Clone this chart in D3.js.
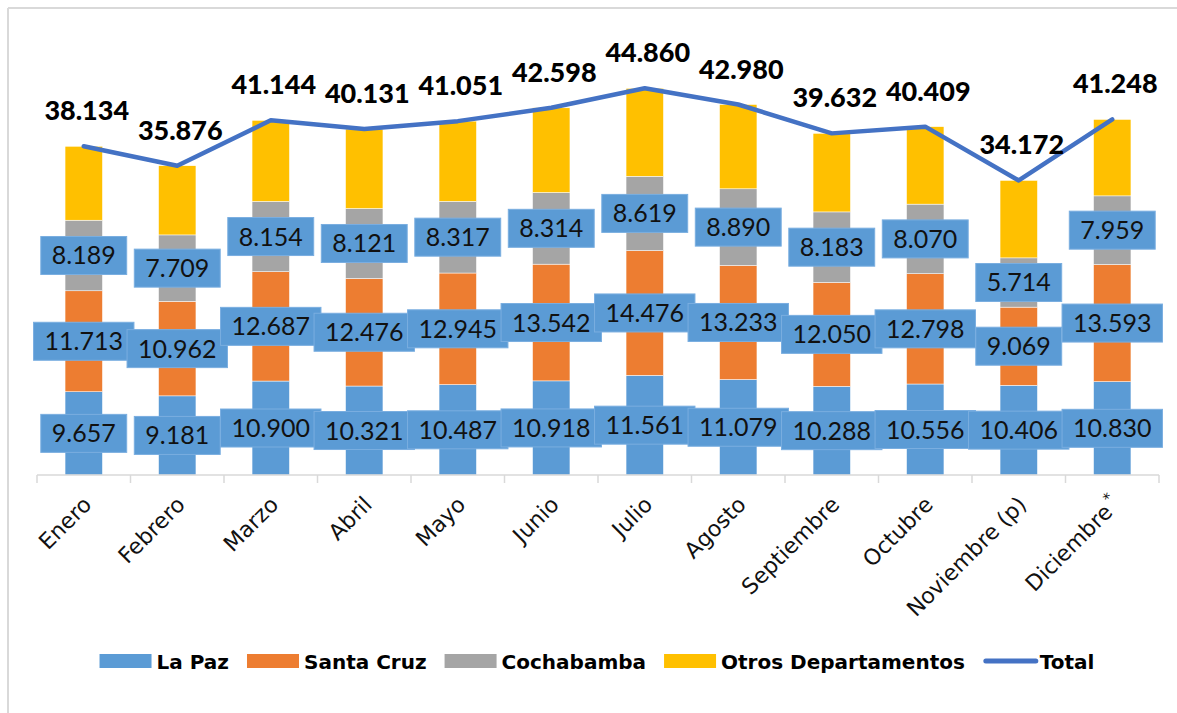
<!DOCTYPE html>
<html>
<head>
<meta charset="utf-8">
<script src="https://cdn.jsdelivr.net/npm/d3@7"></script>
<style>
  body { margin: 0; background: #fff; }
  svg { display: block; }
</style>
</head>
<body>
<div id="chart_div"></div>
<script>
// datos por mes
const months = ["Enero", "Febrero", "Marzo", "Abril", "Mayo", "Junio", "Julio", "Agosto",
  "Septiembre", "Octubre", "Noviembre (p)", "Diciembre"]
const laPaz = [9657, 9181, 10900, 10321, 10487, 10918, 11561, 11079, 10288, 10556, 10406, 10830]
const santaCruz = [11713, 10962, 12687, 12476, 12945, 13542, 14476, 13233, 12050, 12798, 9069, 13593]
const cochabamba = [8189, 7709, 8154, 8121, 8317, 8314, 8619, 8890, 8183, 8070, 5714, 7959]
const otros = [8575, 8024, 9403, 9213, 9302, 9824, 10204, 9778, 9111, 8985, 8983, 8866]
const total = [38134, 35876, 41144, 40131, 41051, 42598, 44860, 42980, 39632, 40409, 34172, 41248]

const seriesNames = ["La Paz", "Santa Cruz", "Cochabamba", "Otros Departamentos"]
const colors = ["#5B9BD5", "#ED7D31", "#A5A5A5", "#FFC000"]
const lineColor = "#4472C4"

const width = 1177, height = 713

const svg = d3.select("#chart_div").append("svg")
  .attr("width", width)
  .attr("height", height)

// marco
svg.append("line").attr("x1", 8).attr("x2", width).attr("y1", 8).attr("y2", 8)
  .attr("stroke", "#d9d9d9").attr("stroke-width", 2)
svg.append("line").attr("x1", 8).attr("x2", 8).attr("y1", 8).attr("y2", height)
  .attr("stroke", "#d9d9d9").attr("stroke-width", 2)

// escalas
const x = d3.scaleBand().domain(months).range([37, 1159]).paddingInner(0.6).paddingOuter(0.3)
const y = d3.scaleLinear().domain([0, 50000]).range([475, 44])

// tabla para el stack
const table = months.map((m, i) => ({
  month: m,
  s0: laPaz[i], s1: santaCruz[i], s2: cochabamba[i], s3: otros[i]
}))
const stack = d3.stack().keys(["s0", "s1", "s2", "s3"])(table)

const barsG = svg.append("g")
stack.forEach((layer, k) => {
  barsG.selectAll(".bar" + k)
    .data(layer)
    .enter()
    .append("rect")
    .attr("x", d => x(d.data.month))
    .attr("width", x.bandwidth())
    .attr("y", d => y(d[1]))
    .attr("height", d => y(d[0]) - y(d[1]))
    .attr("fill", colors[k])
    .attr("stroke", "#fff")
    .attr("stroke-width", 0.5)
})

// eje x
const axisY = 475
const step = x.step()
const ticksX = d3.range(months.length + 1).map(i => 37 + i * step)
svg.append("line").attr("x1", 37).attr("x2", 1159).attr("y1", axisY).attr("y2", axisY)
  .attr("stroke", "#d9d9d9").attr("stroke-width", 1.5)
svg.selectAll(".tick").data(ticksX).enter().append("line")
  .attr("x1", d => d).attr("x2", d => d)
  .attr("y1", axisY).attr("y2", axisY + 8)
  .attr("stroke", "#d9d9d9").attr("stroke-width", 1.5)

const xLabels = svg.append("g")
months.forEach((m, i) => {
  const cx = x(m) + x.bandwidth() / 2
  const t = xLabels.append("text")
    .attr("transform", `translate(${cx + 9},${axisY + 31}) rotate(-45)`)
    .attr("text-anchor", "end")
    .attr("font-family", "DejaVu Sans")
    .attr("font-size", 22)
    .attr("fill", "#111")
  if (i === months.length - 1) {
    t.append("tspan").text(m)
    t.append("tspan").attr("dy", -10).attr("dx", 3).attr("font-size", 15).text("*")
  } else {
    t.text(m)
  }
})

// linea total
const line = d3.line()
  .x((d, i) => x(months[i]) + x.bandwidth() / 2)
  .y(d => y(d))
svg.append("path")
  .datum(total)
  .attr("d", line)
  .attr("fill", "none")
  .attr("stroke", lineColor)
  .attr("stroke-width", 4.5)
  .attr("stroke-linejoin", "round")
  .attr("stroke-linecap", "round")

const fmt = v => d3.format(",")(v).replace(/,/g, ".")

// etiquetas en cajas
const boxG = svg.append("g")
const boxSeries = [0, 1, 2]
boxSeries.forEach(k => {
  stack[k].forEach(d => {
    const cx = x(d.data.month) + x.bandwidth() / 2
    const cy = (y(d[0]) + y(d[1])) / 2
    const g = boxG.append("g")
    const rect = g.append("rect")
    const txt = g.append("text")
      .attr("x", cx)
      .attr("y", cy)
      .attr("dy", "0.36em")
      .attr("text-anchor", "middle")
      .attr("font-family", "Lato")
      .attr("font-size", 25)
      .attr("fill", "#111")
      .text(fmt(d[1] - d[0]))
    const w = txt.node().getComputedTextLength() + 22
    rect.attr("x", cx - w / 2).attr("y", cy - 19)
      .attr("width", w).attr("height", 38)
      .attr("fill", "#5B9BD5")
      .attr("stroke", "#7aaee0")
      .attr("stroke-width", 1)
  })
})

// etiquetas del total
svg.append("g").selectAll("text")
  .data(total)
  .enter()
  .append("text")
  .attr("x", (d, i) => x(months[i]) + x.bandwidth() / 2 + 3)
  .attr("y", d => y(d) - 26)
  .attr("text-anchor", "middle")
  .attr("font-family", "Lato")
  .attr("font-weight", 900)
  .attr("font-size", 27)
  .attr("fill", "#000")
  .text(d => fmt(d))

// leyenda
const legend = svg.append("g")
const legendItems = seriesNames.map((n, i) => ({ name: n, color: colors[i], type: "rect" }))
legendItems.push({ name: "Total", color: lineColor, type: "line" })
let lx = 0
const legY = 661
legendItems.forEach(it => {
  const g = legend.append("g")
  if (it.type === "rect") {
    g.append("rect").attr("x", lx).attr("y", legY - 7).attr("width", 52).attr("height", 14)
      .attr("fill", it.color)
  } else {
    g.append("line").attr("x1", lx + 3).attr("x2", lx + 53).attr("y1", legY).attr("y2", legY)
      .attr("stroke", it.color).attr("stroke-width", 5).attr("stroke-linecap", "round")
  }
  const t = g.append("text")
    .attr("x", lx + 57)
    .attr("y", legY + 8)
    .attr("font-family", "DejaVu Sans")
    .attr("font-weight", "bold")
    .attr("font-size", 20)
    .attr("fill", "#000")
    .text(it.name)
  lx += 57 + t.node().getComputedTextLength() + 18
})
const legW = lx - 18
legend.attr("transform", `translate(${597 - legW / 2},0)`)
</script>
</body>
</html>
